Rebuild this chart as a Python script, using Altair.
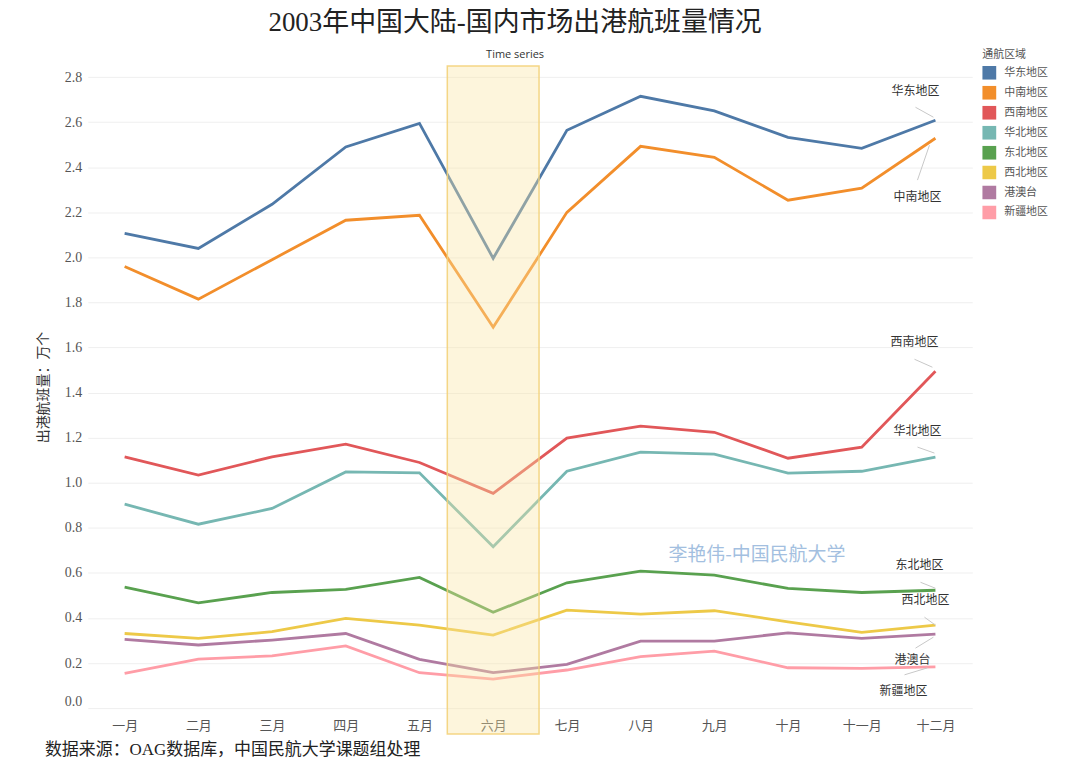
import altair as alt
import pandas as pd

months = ["一月", "二月", "三月", "四月", "五月", "六月", "七月", "八月", "九月", "十月", "十一月", "十二月"]
regions = ["华东地区", "中南地区", "西南地区", "华北地区", "东北地区", "西北地区", "港澳台", "新疆地区"]
colors = ["#4e79a7", "#f28e2b", "#e15759", "#76b7b2", "#59a14f", "#edc948", "#b07aa1", "#ff9da7"]

huadong = [2.107, 2.040, 2.236, 2.490, 2.595, 1.996, 2.564, 2.715, 2.650, 2.533, 2.484, 2.609]
zhongnan = [1.960, 1.815, 1.990, 2.165, 2.187, 1.690, 2.200, 2.493, 2.444, 2.254, 2.307, 2.529]
xinan = [1.115, 1.034, 1.115, 1.171, 1.090, 0.953, 1.198, 1.251, 1.224, 1.109, 1.158, 1.495]
huabei = [0.905, 0.816, 0.886, 1.048, 1.044, 0.716, 1.051, 1.136, 1.127, 1.043, 1.051, 1.114]
dongbei = [0.537, 0.467, 0.513, 0.527, 0.580, 0.425, 0.556, 0.608, 0.590, 0.531, 0.513, 0.523]
xibei = [0.331, 0.309, 0.339, 0.398, 0.368, 0.324, 0.435, 0.417, 0.432, 0.383, 0.336, 0.368]
gangaotai = [0.305, 0.280, 0.302, 0.331, 0.216, 0.157, 0.194, 0.297, 0.297, 0.334, 0.309, 0.328]
xinjiang = [0.154, 0.217, 0.232, 0.276, 0.157, 0.129, 0.169, 0.228, 0.253, 0.179, 0.176, 0.183]

series = [huadong, zhongnan, xinan, huabei, dongbei, xibei, gangaotai, xinjiang]

highlight_month = ["六月"]
highlight_top = [2.85]
highlight_bottom = [-0.115]

title = "2003年中国大陆-国内市场出港航班量情况"
subtitle = "Time series"
y_title = "出港航班量：万个"
legend_title = "通航区域"
source_text = "数据来源：OAG数据库，中国民航大学课题组处理"
watermark = "李艳伟-中国民航大学"

# label offsets (pixels) for end labels: dx, dy ; leader line offsets: (x0, y0, x1, y1)
label_offsets = {
    "华东地区": (-20, -29), "中南地区": (-18, 59), "西南地区": (-21, -29), "华北地区": (-18, -26),
    "东北地区": (-16, -25), "西北地区": (-10, -25), "港澳台": (-23, 26), "新疆地区": (-32, 24),
}
leader_offsets = {
    "华东地区": (-2, -3, -20, -13), "中南地区": (-6, 7, -18, 42), "西南地区": (-3, -4, -21, -12),
    "华北地区": (-1, -4, -18, -10), "东北地区": (0, -2, -15, -8), "西北地区": (0, 0, -11, -8),
    "港澳台": (-2, 3, -20, 14), "新疆地区": (-8, 1, -31, 8),
}

rows = []
for r, vals in zip(regions, series):
    for m, v in zip(months, vals):
        rows.append({"region": r, "month": m, "value": v})
df = pd.DataFrame(rows)

band_df = pd.DataFrame({"month": highlight_month, "top": highlight_top, "bottom": highlight_bottom})

SERIF = "Liberation Serif, Noto Sans CJK SC"
CJK = "Noto Sans CJK SC"

x_enc = alt.X("month:N", sort=months, scale=alt.Scale(type="point", padding=0.5),
              axis=alt.Axis(title=None, labelAngle=0, labelFont=CJK, labelFontSize=13,
                            labelColor="#555", labelPadding=11, ticks=False, domain=False, grid=False))
y_scale = alt.Scale(domain=[0, 2.85], nice=False, zero=False)

lines = alt.Chart(df).mark_line(strokeWidth=2.8).encode(
    x=x_enc,
    y=alt.Y("value:Q", scale=y_scale,
            axis=alt.Axis(title=y_title, values=[0, 0.2, 0.4, 0.6, 0.8, 1.0, 1.2, 1.4, 1.6, 1.8, 2.0, 2.2, 2.4, 2.6, 2.8],
                          format=".1f", labelFont=SERIF, labelFontSize=14, labelColor="#555",
                          labelPadding=6, labelFlush=1, ticks=False, domain=False, grid=True,
                          gridColor="#efefef", gridWidth=1, titleFont=SERIF, titleFontSize=14,
                          titleColor="#333", titleFontWeight="normal", titlePadding=14)),
    color=alt.Color("region:N", sort=regions,
                    scale=alt.Scale(domain=regions, range=colors),
                    legend=alt.Legend(title=legend_title, orient="none", legendX=897, legendY=-17,
                                      symbolType="square", symbolSize=36, symbolStrokeWidth=8,
                                      symbolOpacity=1, clipHeight=14,
                                      labelFont=CJK, labelFontSize=11, labelColor="#555",
                                      titleFont=CJK, titleFontSize=11, titleColor="#555",
                                      titleFontWeight="normal", rowPadding=6, titlePadding=6,
                                      labelOffset=8)),
)

band = alt.Chart(band_df).mark_bar(width=92, fill="#fbe6a2", fillOpacity=0.38,
                                   stroke="#f3d27a", strokeWidth=1.5, strokeOpacity=0.9).encode(
    x=alt.X("month:N", sort=months),
    y=alt.Y("top:Q", scale=y_scale),
    y2="bottom:Q",
)

last = df[df["month"] == months[-1]]

layers = [lines, band]
for r in regions:
    sub = last[last["region"] == r]
    dx, dy = label_offsets[r]
    x0, y0, x1, y1 = leader_offsets[r]
    layers.append(
        alt.Chart(sub).mark_rule(color="#c8c8c8", strokeWidth=1, xOffset=x0, yOffset=y0,
                                 x2Offset=x1, y2Offset=y1).encode(
            x=alt.X("month:N", sort=months), x2="month:N",
            y=alt.Y("value:Q", scale=y_scale), y2="value:Q")
    )
    layers.append(
        alt.Chart(sub).mark_text(font=SERIF, fontSize=12, color="#333", dx=dx, dy=dy).encode(
            x=alt.X("month:N", sort=months), y=alt.Y("value:Q", scale=y_scale), text="region:N")
    )

wm = alt.Chart(pd.DataFrame({"t": [watermark]})).mark_text(
    font=CJK, fontSize=19, color="#a3bfe0", align="center", baseline="middle").encode(
    x=alt.value(671), y=alt.value(490), text="t:N")

src = alt.Chart(pd.DataFrame({"t": [source_text]})).mark_text(
    font=SERIF, fontSize=17, color="#222", align="left", baseline="middle").encode(
    x=alt.value(-43), y=alt.value(686), text="t:N")

layers += [wm, src]

chart = alt.layer(*layers).properties(
    width=887, height=644,
    background="white",
    autosize=alt.AutoSizeParams(type="none"),
    padding={"left": 80, "top": 57, "right": 100, "bottom": 50},
    title=alt.TitleParams(text=title, subtitle=subtitle, anchor="middle", dx=-15,
                          font=SERIF, fontSize=27, fontWeight="normal", color="#222",
                          subtitleFont="Open Sans", subtitleFontSize=11, subtitleColor="#333",
                          subtitlePadding=12, offset=-12),
).configure_view(stroke=None)

chart.save("out.html", embed_options={"renderer": "svg", "actions": False})
